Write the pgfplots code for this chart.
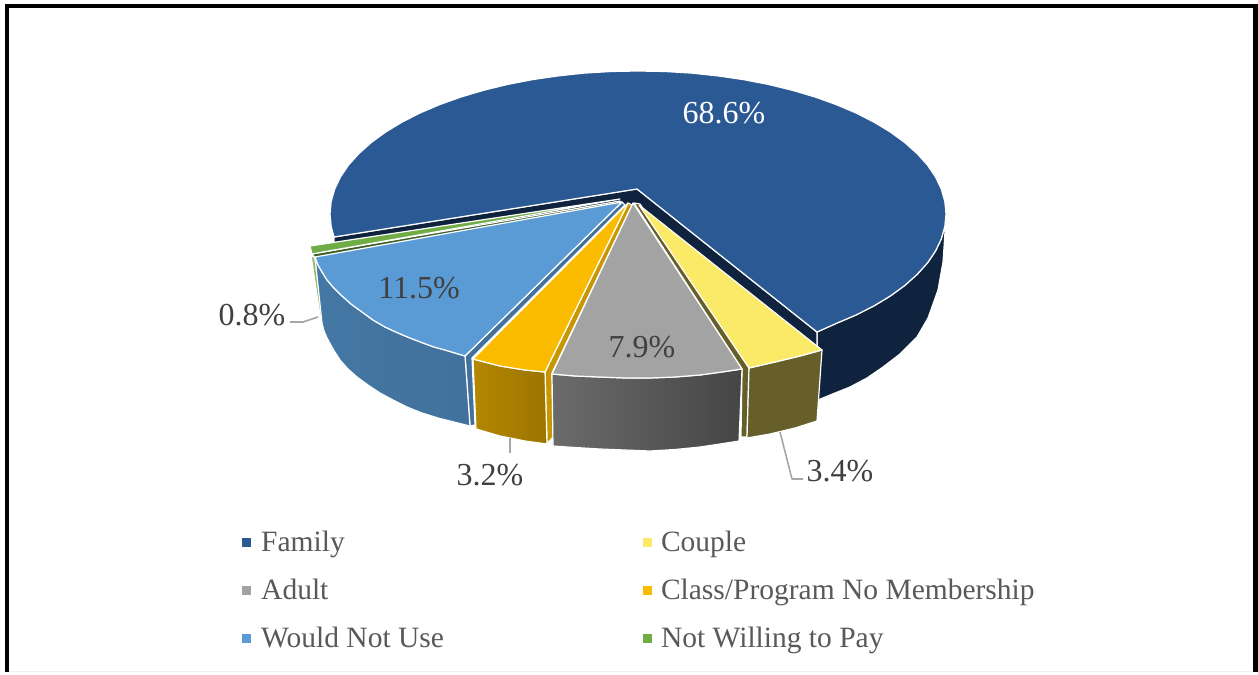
\documentclass[border=0pt]{standalone}
\usepackage{fontspec}
\setmainfont{Liberation Serif}
\usepackage{pgfplots}
\pgfplotsset{compat=1.18}
\definecolor{cFam}{HTML}{2A5993}
\definecolor{cFamD}{HTML}{10233E}
\definecolor{cCou}{HTML}{FBE968}
\definecolor{cCouD}{HTML}{675F2A}
\definecolor{cAdu}{HTML}{A3A3A3}
\definecolor{cCla}{HTML}{FBBC00}
\definecolor{cClaD}{HTML}{C89600}
\definecolor{cWou}{HTML}{5B9BD5}
\definecolor{cWouD}{HTML}{41719C}
\definecolor{cNot}{HTML}{70AD47}
\definecolor{cNotD}{HTML}{3B5E25}
\definecolor{cTxt}{HTML}{404040}
\definecolor{cLeg}{HTML}{595959}
\definecolor{cLead}{HTML}{A6A6A6}
\begin{document}
\begin{tikzpicture}
\begin{axis}[
  width=1258pt,height=672pt,scale only axis,
  xmin=0,xmax=1258,ymin=0,ymax=672,y dir=reverse,
  hide axis,clip=false,
  legend columns=2,
  legend cell align=left,
  legend image code/.code={\fill[#1] (0pt,-4.5pt) rectangle (9pt,4.5pt);},
  legend style={at={(axis cs:239,527)},anchor=north west,draw=none,fill=none,
    text=cLeg,font=\fontsize{29.5}{34}\selectfont,
    row sep=22pt,
    /tikz/column 1/.style={column sep=8pt},
    /tikz/column 2/.style={column sep=197pt},
    /tikz/column 3/.style={column sep=7pt}},
  every axis plot/.append style={forget plot,no markers,line join=round},
  slice/.style={draw=white,line width=1.2pt},
]
% page and frame
\addplot[fill=white,draw=none] coordinates {(0,0)(1258,0)(1258,672)(0,672)} -- cycle;
\addplot[draw=black!6,line width=1pt] coordinates {(9,671.3)(1253,671.3)};
\addplot[draw=black,line width=4.6pt,line join=miter] coordinates {(7,672)(7,6)(1255.5,6)(1255.5,672)};
% legend entries
\addlegendimage{fill=cFam,draw=none}\addlegendentry{Family}
\addlegendimage{fill=cCou,draw=none}\addlegendentry{Couple}
\addlegendimage{fill=cAdu,draw=none}\addlegendentry{Adult}
\addlegendimage{fill=cCla,draw=none}\addlegendentry{Class/Program No Membership}
\addlegendimage{fill=cWou,draw=none}\addlegendentry{Would Not Use}
\addlegendimage{fill=cNot,draw=none}\addlegendentry{Not Willing to Pay}
% family wall
\addplot[slice,fill=cFamD] coordinates {(946,214)(944.8,226.5)(941.3,238.9)(935.5,251)(927.5,262.9)(917.1,274.4)(904.7,285.5)(890.3,296)(873.9,305.9)(855.8,315.1)(836,323.5)(817,332)(818,400)(835,393)(850,387)(867,378)(883,367)(900,354)(917,337)(928,318)(938,290)(943,262)(944.5,240)} -- cycle;
\addplot[slice,fill=cFamD] coordinates {(637,189)(817,332)(817,360)(637,210)(334,243)(334,237)} -- cycle;
% family top
\addplot[slice,fill=cFam] coordinates {(637,189)(817,332)(836,323.5)(855.8,315.1)(873.9,305.9)(890.3,296)(904.7,285.5)(917.1,274.4)(927.5,262.9)(935.5,251)(941.3,238.9)(944.8,226.5)(946,214)(944.8,201.5)(941.3,189.1)(935.5,177)(927.5,165.1)(917.1,153.6)(904.7,142.5)(890.3,132)(873.9,122.1)(855.8,112.9)(836,104.5)(814.7,96.9)(792,90.2)(768.2,84.4)(743.3,79.6)(717.7,75.9)(691.6,73.1)(664.8,71.5)(638,71)(611.2,71.5)(584.4,73.1)(558.3,75.9)(532.7,79.6)(507.8,84.4)(484,90.2)(461.3,96.9)(440,104.5)(420.2,112.9)(402.1,122.1)(385.7,132)(371.3,142.5)(358.9,153.6)(348.5,165.1)(340.5,177)(334.7,189.1)(331.2,201.5)(330,214)(331.2,226.5)(334,237)} -- cycle;
% not willing to pay
\addplot[slice,fill=cNot!80!white] coordinates {(311,255)(321,322)(323,322)(315,258)} -- cycle;
\addplot[slice,fill=cNotD] coordinates {(620,201)(312,254)(315,258)(621,204)} -- cycle;
\addplot[slice,fill=cNot] coordinates {(620,199)(310,246)(312,254)} -- cycle;
% would not use
\addplot[slice,fill=cWouD] coordinates {(622,202)(465,356)(470,426)(475,425)(472,358)(625,205)} -- cycle;
\addplot[slice,left color=cWouD!85!cWou,right color=cWouD] coordinates {(315,257)(322,323)(324,331)(327,338)(333,349)(340,360)(348,369)(357,377)(368,385)(380,393)(393,400)(407,407)(422,413)(438,418)(454,422)(470,426)(465,356)(445,350)(434,347)(423,343)(410,338)(398,333)(385,327)(373,320)(362,312)(351,304)(341,295)(333,287)(327,280)(322,272)(318,265)} -- cycle;
\addplot[slice,fill=cWou] coordinates {(622,202)(315,257)(318,265)(322,272)(327,280)(333,287)(341,295)(351,304)(362,312)(373,320)(385,327)(398,333)(410,338)(423,343)(434,347)(445,350)(465,356)} -- cycle;
% class / program
\addplot[slice,fill=cClaD] coordinates {(628,203)(545,372)(547,444)(553,437)(552,373)(632,205)} -- cycle;
\addplot[slice,left color=cClaD!90!black,right color=cClaD!78!black] coordinates {(473,359)(476,429)(500,436)(525,441)(547,444)(545,372)(525,370)(500,366)} -- cycle;
\addplot[slice,fill=cCla] coordinates {(628,203)(473,359)(500,366)(525,370)(545,372)} -- cycle;
% adult
\addplot[slice,fill=cCouD] coordinates {(634,203)(742,369)(741,437)(747,437)(749,368)(640,204)} -- cycle;
\addplot[slice,left color=black!58,right color=black!73] coordinates {(552,374)(553,446)(575,447.5)(600,449)(625,450)(650,451)(675,449.5)(700,447)(720,444)(739,441)(742,369)(722,372)(700,375)(675,377)(650,378)(625,378)(600,377)(575,376)} -- cycle;
\addplot[slice,fill=cAdu] coordinates {(633,203)(552,374)(575,376)(600,377)(625,378)(650,378)(675,377)(700,375)(722,372)(742,369)} -- cycle;
% couple
\addplot[slice,fill=cCouD] coordinates {(749,368)(747,438)(770,434)(795,428)(817,421)(822,350)(800,356)(775,362)} -- cycle;
\addplot[slice,fill=cCou] coordinates {(639,205)(749,368)(775,362)(800,356)(822,350)} -- cycle;
% leader lines
\addplot[draw=cLead,line width=1.6pt] coordinates {(290,322)(303,322)(318,317)};
\addplot[draw=cLead,line width=1.6pt] coordinates {(510,438)(510,453)};
\addplot[draw=cLead,line width=1.6pt] coordinates {(780,432)(792,479)(803,479)};
% data labels
\node[text=white,font=\fontsize{32}{36}\selectfont] at (axis cs:724,113) {68.6\%};
\node[text=cTxt,font=\fontsize{32}{36}\selectfont] at (axis cs:419,288) {11.5\%};
\node[text=cTxt,font=\fontsize{32}{36}\selectfont] at (axis cs:642,347) {7.9\%};
\node[text=cTxt,font=\fontsize{32}{36}\selectfont] at (axis cs:252,315) {0.8\%};
\node[text=cTxt,font=\fontsize{32}{36}\selectfont] at (axis cs:490,475) {3.2\%};
\node[text=cTxt,font=\fontsize{32}{36}\selectfont] at (axis cs:840,471) {3.4\%};
\end{axis}
\end{tikzpicture}
\end{document}
